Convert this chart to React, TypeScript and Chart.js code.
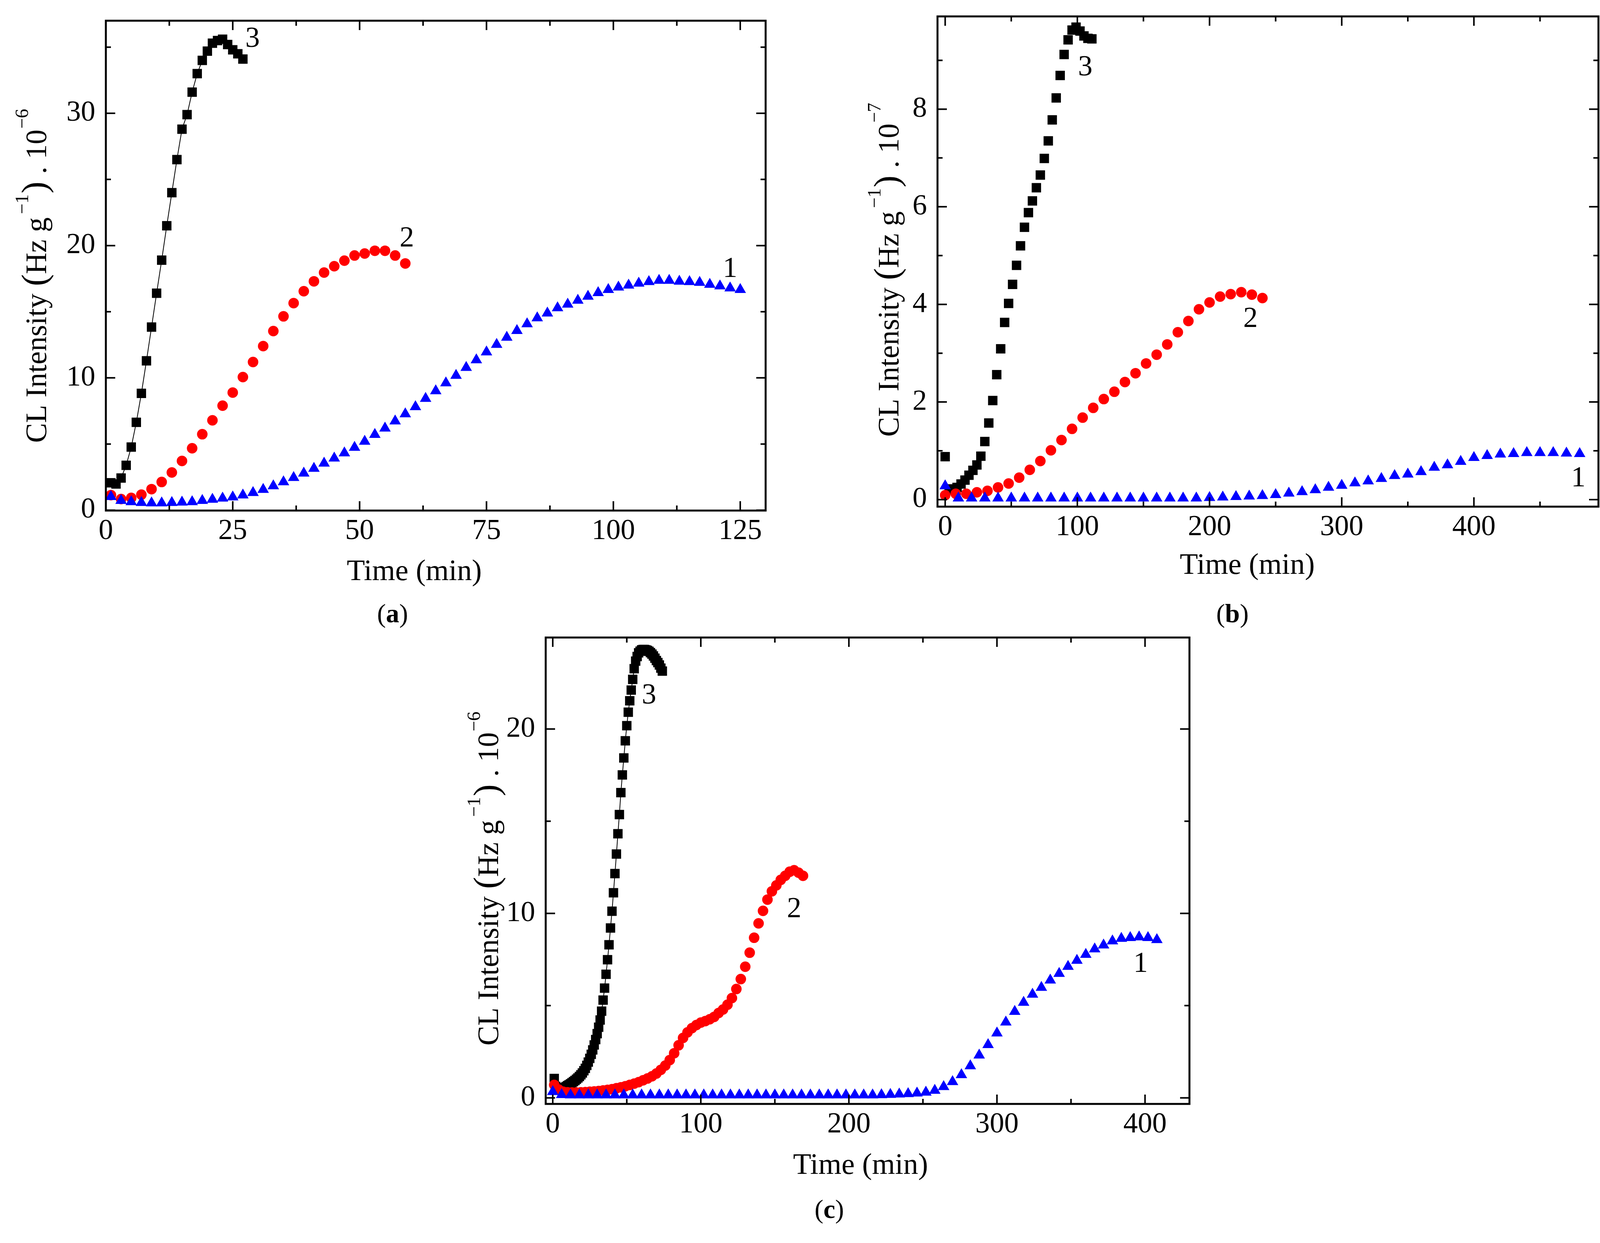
import React, { useEffect, useRef } from 'react';
import { Chart, registerables } from 'chart.js';

Chart.register(...registerables);

const FONT = '"Liberation Serif", "DejaVu Serif", serif';

// ---- panel (a) ----
const aTime3 = [1, 2, 3, 4, 5, 6, 7, 8, 9, 10, 11, 12, 13, 14, 15, 16, 17, 18, 19, 20, 21, 22, 23, 24, 25, 26, 27];
const aVal3 = [2.07, 1.98, 2.43, 3.39, 4.77, 6.64, 8.83, 11.29, 13.84, 16.4, 18.9, 21.5, 24.0, 26.5, 28.8, 29.9, 31.6, 33.0, 34.0, 34.7, 35.3, 35.5, 35.6, 35.2, 34.8, 34.5, 34.1];
const aTime2 = [1, 3, 5, 7, 9, 11, 13, 15, 17, 19, 21, 23, 25, 27, 29, 31, 33, 35, 37, 39, 41, 43, 45, 47, 49, 51, 53, 55, 57, 59];
const aVal2 = [1.14, 0.84, 0.93, 1.17, 1.59, 2.13, 2.85, 3.72, 4.68, 5.74, 6.79, 7.9, 8.89, 10.06, 11.2, 12.4, 13.54, 14.65, 15.65, 16.55, 17.3, 17.96, 18.44, 18.86, 19.25, 19.4, 19.61, 19.61, 19.25, 18.65];
const aTime1 = [1, 3, 5, 7, 9, 11, 13, 15, 17, 19, 21, 23, 25, 27, 29, 31, 33, 35, 37, 39, 41, 43, 45, 47, 49, 51, 53, 55, 57, 59, 61, 63, 65, 67, 69, 71, 73, 75, 77, 79, 81, 83, 85, 87, 89, 91, 93, 95, 97, 99, 101, 103, 105, 107, 109, 111, 113, 115, 117, 119, 121, 123, 125];
const aVal1 = [1.02, 0.72, 0.63, 0.57, 0.54, 0.54, 0.57, 0.6, 0.63, 0.72, 0.81, 0.9, 0.99, 1.14, 1.32, 1.56, 1.83, 2.13, 2.46, 2.79, 3.15, 3.54, 3.93, 4.32, 4.74, 5.2, 5.71, 6.19, 6.73, 7.27, 7.81, 8.44, 9.01, 9.61, 10.18, 10.78, 11.35, 11.95, 12.52, 13.06, 13.57, 14.08, 14.53, 14.89, 15.29, 15.56, 15.86, 16.16, 16.43, 16.67, 16.85, 17.0, 17.15, 17.27, 17.36, 17.36, 17.3, 17.27, 17.21, 17.06, 16.94, 16.79, 16.67];
const aXTicks = [0, 25, 50, 75, 100, 125];
const aYTicks = [0, 10, 20, 30];
const aTagX = [123, 59.3, 28.9];
const aTagY = [18.2, 20.5, 35.6];

// ---- panel (b) ----
const bTime3 = [0, 3, 6, 9, 12, 15, 18, 21, 24, 27, 30, 33, 36, 39, 42, 45, 48, 51, 54, 57, 60, 63, 66, 69, 72, 75, 78, 81, 84, 87, 90, 93, 96, 99, 102, 105, 108, 111];
const bVal3 = [0.88, 0.22, 0.2, 0.25, 0.32, 0.4, 0.5, 0.6, 0.71, 0.89, 1.19, 1.57, 2.03, 2.56, 3.09, 3.63, 4.02, 4.41, 4.8, 5.2, 5.58, 5.88, 6.12, 6.39, 6.65, 6.99, 7.35, 7.78, 8.23, 8.69, 9.12, 9.42, 9.62, 9.68, 9.6, 9.5, 9.45, 9.44];
const bTime2 = [0, 8, 16, 24, 32, 40, 48, 56, 64, 72, 80, 88, 96, 104, 112, 120, 128, 136, 144, 152, 160, 168, 176, 184, 192, 200, 208, 216, 224, 232, 240];
const bVal2 = [0.09, 0.12, 0.12, 0.15, 0.18, 0.25, 0.33, 0.45, 0.61, 0.79, 1.01, 1.22, 1.45, 1.68, 1.88, 2.06, 2.21, 2.41, 2.59, 2.79, 2.97, 3.18, 3.43, 3.66, 3.9, 4.04, 4.16, 4.21, 4.25, 4.2, 4.13];
const bTime1 = [0, 10, 20, 30, 40, 50, 60, 70, 80, 90, 100, 110, 120, 130, 140, 150, 160, 170, 180, 190, 200, 210, 220, 230, 240, 250, 260, 270, 280, 290, 300, 310, 320, 330, 340, 350, 360, 370, 380, 390, 400, 410, 420, 430, 440, 450, 460, 470, 480];
const bVal1 = [0.28, 0.03, 0.03, 0.03, 0.03, 0.03, 0.03, 0.03, 0.03, 0.03, 0.03, 0.03, 0.03, 0.03, 0.03, 0.03, 0.03, 0.03, 0.03, 0.03, 0.04, 0.05, 0.06, 0.07, 0.08, 0.1, 0.13, 0.16, 0.2, 0.25, 0.29, 0.34, 0.38, 0.43, 0.49, 0.52, 0.57, 0.66, 0.71, 0.78, 0.86, 0.9, 0.93, 0.94, 0.96, 0.96, 0.96, 0.95, 0.94];
const bXTicks = [0, 100, 200, 300, 400];
const bYTicks = [0, 2, 4, 6, 8];
const bTagX = [479, 231, 106];
const bTagY = [0.43, 3.69, 8.85];

// ---- panel (c) ----
const cTime3 = [1, 2, 3, 4, 5, 6, 7, 8, 9, 10, 11, 12, 13, 14, 15, 16, 17, 18, 19, 20, 21, 22, 23, 24, 25, 26, 27, 28, 29, 30, 31, 32, 33, 34, 35, 36, 37, 38, 39, 40, 41, 42, 43, 44, 45, 46, 47, 48, 49, 50, 51, 52, 53, 54, 55, 56, 57, 58, 59, 60, 61, 62, 63, 64, 65, 66, 67, 68, 69, 70, 71, 72, 73, 74];
const cVal3 = [1.05, 0.62, 0.5, 0.47, 0.47, 0.49, 0.52, 0.56, 0.61, 0.66, 0.71, 0.76, 0.82, 0.88, 0.94, 1.01, 1.08, 1.16, 1.25, 1.35, 1.47, 1.6, 1.76, 1.94, 2.14, 2.36, 2.6, 2.87, 3.16, 3.48, 3.83, 4.22, 4.7, 5.3, 5.95, 6.7, 7.49, 8.3, 9.21, 10.12, 11.12, 12.16, 13.22, 14.32, 15.36, 16.55, 17.51, 18.43, 19.36, 20.18, 20.91, 21.53, 22.11, 22.69, 23.27, 23.68, 23.93, 24.13, 24.22, 24.29, 24.31, 24.31, 24.29, 24.26, 24.21, 24.14, 24.06, 23.96, 23.84, 23.71, 23.6, 23.47, 23.3, 23.14];
const cTime2 = [1, 4, 7, 10, 13, 16, 19, 22, 25, 28, 31, 34, 37, 40, 43, 46, 49, 52, 55, 58, 61, 64, 67, 70, 73, 76, 79, 82, 85, 88, 91, 94, 97, 100, 103, 106, 109, 112, 115, 118, 121, 124, 127, 130, 133, 136, 139, 142, 145, 148, 151, 154, 157, 160, 163, 166, 169];
const cVal2 = [0.7, 0.45, 0.33, 0.3, 0.29, 0.29, 0.3, 0.31, 0.33, 0.35, 0.37, 0.4, 0.43, 0.47, 0.52, 0.57, 0.63, 0.7, 0.77, 0.85, 0.95, 1.05, 1.17, 1.32, 1.52, 1.75, 2.05, 2.42, 2.85, 3.25, 3.55, 3.78, 3.95, 4.08, 4.16, 4.26, 4.39, 4.6, 4.79, 5.05, 5.41, 5.9, 6.44, 7.11, 7.87, 8.68, 9.46, 10.14, 10.75, 11.2, 11.52, 11.82, 12.04, 12.26, 12.34, 12.21, 12.04];
const cTime1 = [0, 6, 12, 18, 24, 30, 36, 42, 48, 54, 60, 66, 72, 78, 84, 90, 96, 102, 108, 114, 120, 126, 132, 138, 144, 150, 156, 162, 168, 174, 180, 186, 192, 198, 204, 210, 216, 222, 228, 234, 240, 246, 252, 258, 264, 270, 276, 282, 288, 294, 300, 306, 312, 318, 324, 330, 336, 342, 348, 354, 360, 366, 372, 378, 384, 390, 396, 402, 408];
const cVal1 = [0.33, 0.17, 0.15, 0.15, 0.15, 0.15, 0.15, 0.15, 0.15, 0.15, 0.15, 0.15, 0.15, 0.15, 0.15, 0.15, 0.15, 0.15, 0.15, 0.15, 0.15, 0.15, 0.15, 0.15, 0.15, 0.15, 0.15, 0.15, 0.15, 0.15, 0.15, 0.15, 0.15, 0.15, 0.15, 0.15, 0.15, 0.16, 0.18, 0.2, 0.22, 0.25, 0.3, 0.4, 0.6, 0.87, 1.25, 1.73, 2.31, 2.88, 3.51, 4.1, 4.68, 5.17, 5.61, 5.98, 6.38, 6.74, 7.12, 7.45, 7.77, 8.07, 8.28, 8.5, 8.64, 8.68, 8.72, 8.68, 8.57];
const cXTicks = [0, 100, 200, 300, 400];
const cYTicks = [0, 10, 20];
const cTagX = [397, 163, 65];
const cTagY = [7.25, 10.2, 21.8];

const tagText = ['1', '2', '3'];

type Axis = { min: number; max: number; step: number; minor: number; ticks: number[] };
type Panel = {
  key: string;
  box: { left: number; top: number; width: number; height: number };
  padTop: number; padRight: number;
  x: Axis; y: Axis;
  s1: [number[], number[]]; s2: [number[], number[]]; s3: [number[], number[]];
  lineWidth3: number;
  tagX: number[]; tagY: number[];
  expo: string;
  yTitleDx: number; yTitleDy: number; xTitleDx: number; xTitleDy: number;
};

const panels: Panel[] = [
  {
    key: 'a', box: { left: 11, top: -47, width: 2009, height: 1574 }, padTop: 100, padRight: 60,
    x: { min: 0, max: 130, step: 25, minor: 12.5, ticks: aXTicks }, y: { min: -0.03, max: 37, step: 10, minor: 5, ticks: aYTicks },
    s1: [aTime1, aVal1], s2: [aTime2, aVal2], s3: [aTime3, aVal3], lineWidth3: 2, tagX: aTagX, tagY: aTagY, expo: '6',
    yTitleDx: -153, yTitleDy: 26, xTitleDx: -55, xTitleDy: 178,
  },
  {
    key: 'b', box: { left: 2140, top: -58, width: 1982, height: 1575 }, padTop: 100, padRight: 30,
    x: { min: -5.8, max: 494.2, step: 100, minor: 50, ticks: bXTicks }, y: { min: -0.144, max: 9.9, step: 2, minor: 1, ticks: bYTicks },
    s1: [bTime1, bVal1], s2: [bTime2, bVal2], s3: [bTime3, bVal3], lineWidth3: 0, tagX: bTagX, tagY: bTagY, expo: '7',
    yTitleDx: -100, yTitleDy: 21, xTitleDx: -53, xTitleDy: 172,
  },
  {
    key: 'c', box: { left: 1137, top: 1532, width: 1968, height: 1514 }, padTop: 100, padRight: 60,
    x: { min: -4.76, max: 430, step: 100, minor: 50, ticks: cXTicks }, y: { min: -0.33, max: 24.96, step: 10, minor: 5, ticks: cYTicks },
    s1: [cTime1, cVal1], s2: [cTime2, cVal2], s3: [cTime3, cVal3], lineWidth3: 2, tagX: cTagX, tagY: cTagY, expo: '6',
    yTitleDx: -122, yTitleDy: 20, xTitleDx: -18, xTitleDy: 179,
  },
];

const captions = [
  { key: 'a', cx: 1005, base: 1593 },
  { key: 'b', cx: 3155, base: 1593 },
  { key: 'c', cx: 2123, base: 3118 },
];

function drawYTitle(ctx: CanvasRenderingContext2D, cx: number, cy: number, expo: string) {
  const parts = [
    { t: 'CL Intensity ', size: 76, rise: 0, gap: 0 },
    { t: '(', size: 92, rise: 0, gap: 0 },
    { t: 'Hz g', size: 76, rise: 0, gap: 8 },
    { t: '\u22121', size: 48, rise: 46, gap: 2 },
    { t: ')', size: 92, rise: 0, gap: 0 },
    { t: ' . 10', size: 76, rise: 0, gap: 2 },
    { t: '\u2212' + expo, size: 48, rise: 46, gap: 0 },
  ];
  let total = 0;
  const widths = parts.map((p) => {
    ctx.font = `${p.size}px ${FONT}`;
    const w = ctx.measureText(p.t).width + p.gap;
    total += w;
    return w;
  });
  ctx.save();
  ctx.translate(cx, cy);
  ctx.rotate(-Math.PI / 2);
  ctx.textAlign = 'left';
  ctx.textBaseline = 'alphabetic';
  let x = -total / 2;
  parts.forEach((p, i) => {
    ctx.font = `${p.size}px ${FONT}`;
    ctx.fillText(p.t, x, -p.rise);
    x += widths[i];
  });
  ctx.restore();
}

function framePlugin(p: Panel) {
  return {
    id: 'frame' + p.key,
    afterDatasetsDraw(chart: any) {
      const { ctx, chartArea: a } = chart;
      const xs = chart.scales.x;
      const ys = chart.scales.y;
      ctx.save();
      ctx.strokeStyle = '#000';
      ctx.lineWidth = 4;
      // inward ticks on all four sides, major and minor
      for (let k = Math.ceil(p.x.min / p.x.minor); k * p.x.minor <= p.x.max; k++) {
        const v = k * p.x.minor;
        const px = xs.getPixelForValue(v);
        const len = Math.abs(v / p.x.step - Math.round(v / p.x.step)) < 1e-6 ? 24 : 13;
        ctx.beginPath();
        ctx.moveTo(px, a.bottom); ctx.lineTo(px, a.bottom - len);
        ctx.moveTo(px, a.top); ctx.lineTo(px, a.top + len);
        ctx.stroke();
      }
      for (let k = Math.ceil(p.y.min / p.y.minor); k * p.y.minor <= p.y.max; k++) {
        const v = k * p.y.minor;
        const py = ys.getPixelForValue(v);
        const len = Math.abs(v / p.y.step - Math.round(v / p.y.step)) < 1e-6 ? 24 : 13;
        ctx.beginPath();
        ctx.moveTo(a.left, py); ctx.lineTo(a.left + len, py);
        ctx.moveTo(a.right, py); ctx.lineTo(a.right - len, py);
        ctx.stroke();
      }
      ctx.lineWidth = 5;
      ctx.strokeRect(a.left, a.top, a.right - a.left, a.bottom - a.top);

      ctx.fillStyle = '#000';
      ctx.font = `74px ${FONT}`;
      ctx.textAlign = 'center';
      ctx.textBaseline = 'middle';
      p.tagX.forEach((tx, i) => {
        ctx.fillText(tagText[i], xs.getPixelForValue(tx), ys.getPixelForValue(p.tagY[i]));
      });

      ctx.font = `76px ${FONT}`;
      ctx.textBaseline = 'alphabetic';
      ctx.fillText('Time (min)', (a.left + a.right) / 2 + p.xTitleDx, a.bottom + p.xTitleDy);
      drawYTitle(ctx, a.left + p.yTitleDx, (a.top + a.bottom) / 2 + p.yTitleDy, p.expo);
      ctx.restore();
    },
  };
}

function pts(xs: number[], ys: number[]) {
  return xs.map((x, i) => ({ x, y: ys[i] }));
}

function PanelChart({ p }: { p: Panel }) {
  const ref = useRef<HTMLCanvasElement>(null);
  useEffect(() => {
    if (!ref.current) return;
    const tickFont = { family: FONT, size: 74 };
    const chart = new Chart(ref.current, {
      type: 'scatter',
      data: {
        datasets: [
          { data: pts(p.s1[0], p.s1[1]), pointStyle: 'triangle', pointRadius: 17, pointBackgroundColor: '#0000ff', pointBorderWidth: 0, showLine: false },
          { data: pts(p.s2[0], p.s2[1]), pointStyle: 'circle', pointRadius: 13.5, pointBackgroundColor: '#ff0000', pointBorderWidth: 0, showLine: false },
          { data: pts(p.s3[0], p.s3[1]), pointStyle: 'rect', pointRadius: 17, pointBackgroundColor: '#000000', pointBorderWidth: 0, showLine: p.lineWidth3 > 0, borderColor: '#000000', borderWidth: p.lineWidth3 },
        ] as any,
      },
      options: {
        animation: false,
        responsive: true,
        maintainAspectRatio: false,
        events: [],
        layout: { padding: { left: 0, top: p.padTop, right: p.padRight, bottom: 0 } },
        plugins: { legend: { display: false }, tooltip: { enabled: false } },
        scales: {
          x: {
            type: 'linear', position: 'bottom', min: p.x.min, max: p.x.max,
            grid: { display: false, drawTicks: false }, border: { display: false },
            ticks: { font: tickFont, color: '#000', padding: 9, maxRotation: 0, autoSkip: false },
            afterBuildTicks: (s: any) => { s.ticks = p.x.ticks.map((v) => ({ value: v })); },
            afterFit: (s: any) => { s.height = 220; },
          },
          y: {
            type: 'linear', position: 'left', min: p.y.min, max: p.y.max,
            grid: { display: false, drawTicks: false }, border: { display: false },
            ticks: { font: tickFont, color: '#000', padding: 27, autoSkip: false },
            afterBuildTicks: (s: any) => { s.ticks = p.y.ticks.map((v) => ({ value: v })); },
            afterFit: (s: any) => { s.width = 260; },
          },
        },
      } as any,
      plugins: [framePlugin(p)],
    });
    return () => chart.destroy();
  }, [p]);
  return (
    <div style={{ position: 'absolute', left: p.box.left, top: p.box.top, width: p.box.width, height: p.box.height }}>
      <canvas ref={ref}></canvas>
    </div>
  );
}

export default function App() {
  return (
    <div style={{ position: 'absolute', left: 0, top: 0, width: 4128, height: 3182, background: '#fff', overflow: 'hidden' }}>
      {panels.map((p) => <PanelChart key={p.key} p={p} />)}
      {captions.map((c) => (
        <div key={c.key} style={{ position: 'absolute', left: c.cx - 150, width: 300, top: c.base - 57, fontFamily: FONT, fontSize: 68, lineHeight: '68px', textAlign: 'center', color: '#000' }}>
          (<b>{c.key}</b>)
        </div>
      ))}
    </div>
  );
}
